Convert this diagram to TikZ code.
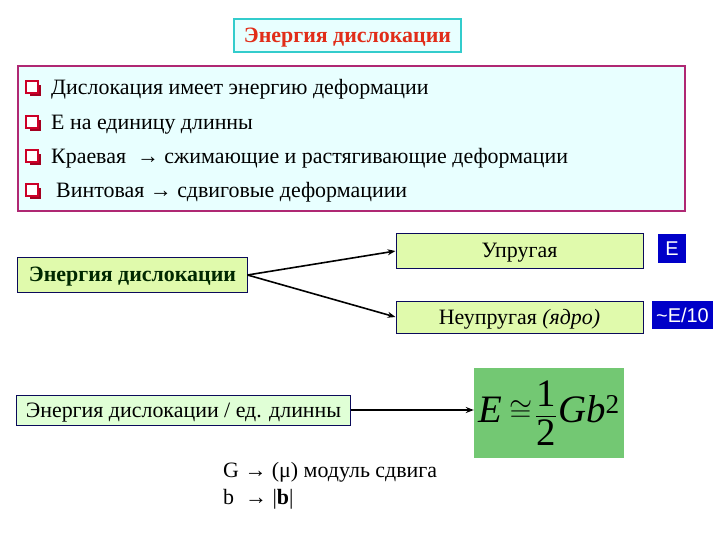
\documentclass[tikz,border=0pt]{standalone}
\usepackage{amsmath}
\usepackage{graphicx}
\usepackage{fontspec}
\setmainfont{Liberation Serif}
\newfontfamily\arialfont{Liberation Sans}
\usetikzlibrary{arrows.meta,positioning}
\definecolor{ttlred}{RGB}{225,45,25}
\definecolor{ttlteal}{RGB}{51,204,204}
\definecolor{paleblue}{RGB}{232,255,255}
\definecolor{listframe}{RGB}{175,40,115}
\definecolor{bulred}{RGB}{204,0,40}
\definecolor{limefill}{RGB}{224,250,172}
\definecolor{mintfill}{RGB}{224,255,214}
\definecolor{navyframe}{RGB}{10,10,90}
\definecolor{darkgrn}{RGB}{0,40,0}
\definecolor{eblue}{RGB}{0,0,200}
\definecolor{fmlgreen}{RGB}{115,200,115}
\newcommand{\qbul}[2]{%
  \fill[bulred!80!black] (#1-3,#2-3) rectangle (#1+8,#2+8);
  \draw[bulred, fill=white, line width=1.3bp] (#1-7,#2-7) rectangle (#1+5,#2+5);}
\tikzset{
  ttlbox/.style={draw=ttlteal, line width=2.5bp, fill=paleblue, text=ttlred, inner sep=0pt,
    text height=17bp, text depth=3bp,
    font=\fontsize{22}{26}\selectfont\bfseries, minimum width=227bp, minimum height=33bp},
  listbox/.style={draw=listframe, line width=2bp, fill=paleblue, inner sep=0pt,
    minimum width=667bp, minimum height=145bp},
  itemtxt/.style={anchor=west, inner sep=0pt, text height=17bp, text depth=3bp,
    font=\fontsize{22}{26}\selectfont},
  limebox/.style={draw=navyframe, line width=1bp, fill=limefill, inner sep=0pt,
    text height=17bp, text depth=3bp, font=\fontsize{22}{26}\selectfont},
  bluebox/.style={fill=eblue, text=white, inner sep=0pt, text height=15bp, text depth=1bp,
    font=\arialfont\fontsize{20}{22}\selectfont},
  notetxt/.style={anchor=west, inner sep=0pt, font=\fontsize{22}{26}\selectfont},
  arr/.style={-{Stealth[length=8bp,width=6bp]}, line width=1.6bp},
}
\begin{document}
\begin{tikzpicture}[x=1bp,y=-1bp]
\useasboundingbox[fill=white] (0,0) rectangle (720,540);
\node[ttlbox] (title) at (347.5,35.5) {Энергия дислокации};
% list of statements
\node[listbox] (list) at (351.5,138.5) {};
\qbul{33}{88}
\qbul{33}{123}
\qbul{33}{157}
\qbul{33}{191}
\node[itemtxt] (item1) at (51,88) {Дислокация имеет энергию деформации};
\node[itemtxt] (item2) at (51,123) {Е на единицу длинны};
\node[itemtxt] (item3) at (51,157) {Краевая \ → сжимающие и растягивающие деформации};
\node[itemtxt] (item4) at (56,191) {Винтовая → сдвиговые деформациии};
% energy split
\node[limebox, text=darkgrn, font=\fontsize{22}{26}\selectfont\bfseries,
  minimum width=229bp, minimum height=34bp] (energy) at (132.5,275) {Энергия дислокации};
\node[limebox, minimum width=247bp, minimum height=34bp] (elastic) at (519.5,251) {Упругая};
\node[limebox, minimum width=247bp, minimum height=32bp] (inelastic) at (519.5,317)
  {Неупругая \textit{(ядро)}};
\node[bluebox, minimum width=28bp, minimum height=29bp] (eE) at (672,248.5) {E};
\node[bluebox, minimum width=61bp, minimum height=28bp] (eTen) at (682.5,315) {\textasciitilde E/10};
\draw[arr] (energy.east) -- (elastic.west);
\draw[arr] (energy.east) -- (inelastic.west);
% energy per unit length
\node[limebox, fill=mintfill, minimum width=333bp, minimum height=30bp] (perlen) at (183.5,410)
  {Энергия дислокации / ед. длинны};
\node[fill=fmlgreen, inner sep=0pt, minimum width=150bp, minimum height=90bp,
  font=\fontsize{39}{46}\selectfont] (formula) at (549,413)
  {{\itshape E}\hspace{7bp}\raisebox{2bp}{\scalebox{1.2}{$\cong$}}\hspace{3bp}%
   $\genfrac{}{}{0.9bp}{0}{\text{1}}{\text{2}}$\hspace{1bp}{\itshape Gb}\textsuperscript{2}};
\draw[arr] (perlen.east) -- (perlen.east -| formula.west);
\node[notetxt] (shear) at (223,472) {G → (μ) модуль сдвига};
\node[notetxt] (burgers) at (223,499) {b \ → |\textbf{b}|};
\end{tikzpicture}
\end{document}
